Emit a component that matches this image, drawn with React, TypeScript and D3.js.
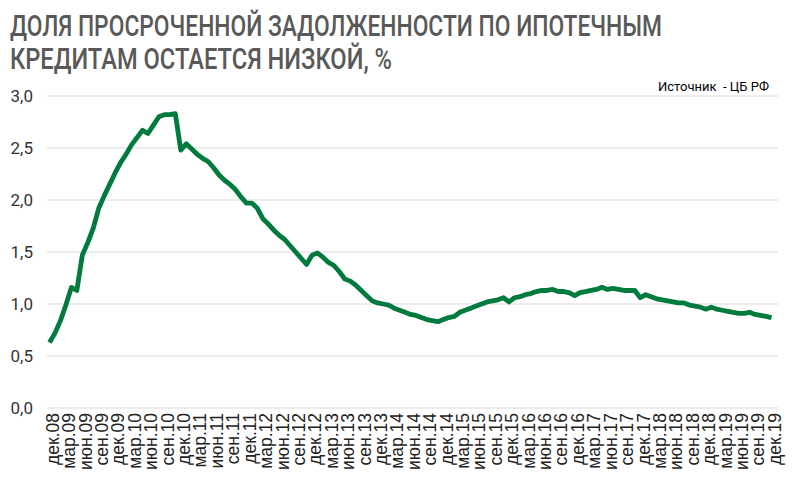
import React from "react";
import * as d3 from "d3";

const titleLines = [
  "ДОЛЯ ПРОСРОЧЕННОЙ ЗАДОЛЖЕННОСТИ ПО ИПОТЕЧНЫМ",
  "КРЕДИТАМ ОСТАЕТСЯ НИЗКОЙ, %",
];
const sourceText = "Источник  - ЦБ РФ";

const startYear = 8;
const endYear = 19;

const values = [
  0.63, 0.72, 0.84, 0.99, 1.16, 1.13, 1.47, 1.59, 1.73, 1.92,
  2.04, 2.15, 2.26, 2.36, 2.44, 2.53, 2.6, 2.67, 2.64, 2.72,
  2.8, 2.82, 2.82, 2.83, 2.48, 2.54, 2.49, 2.44, 2.4, 2.37,
  2.31, 2.24, 2.19, 2.15, 2.1, 2.03, 1.97, 1.97, 1.92, 1.82,
  1.77, 1.71, 1.66, 1.62, 1.56, 1.5, 1.44, 1.38, 1.47, 1.49,
  1.45, 1.4, 1.37, 1.31, 1.24, 1.22, 1.18, 1.13, 1.08, 1.03,
  1.01, 1.0, 0.99, 0.96, 0.94, 0.92, 0.9, 0.89, 0.87, 0.85,
  0.84, 0.83, 0.85, 0.87, 0.88, 0.92, 0.94, 0.96, 0.98, 1.0,
  1.02, 1.03, 1.04, 1.06, 1.02, 1.06, 1.07, 1.09, 1.1, 1.12,
  1.13, 1.13, 1.14, 1.12, 1.12, 1.11, 1.08, 1.11, 1.12, 1.13,
  1.14, 1.16, 1.14, 1.15, 1.14, 1.13, 1.13, 1.13, 1.06, 1.09,
  1.07, 1.05, 1.04, 1.03, 1.02, 1.01, 1.01, 0.99, 0.98, 0.97,
  0.95, 0.97, 0.95, 0.94, 0.93, 0.92, 0.91, 0.91, 0.92, 0.9,
  0.89, 0.88, 0.87,
];

const yTicks = [0, 0.5, 1, 1.5, 2, 2.5, 3];

// quarterly labels: дек.08, мар.09, ... дек.19
const xLabels: string[] = [];
for (let y = startYear; y <= endYear; y++) {
  const yy = String(y).padStart(2, "0");
  if (y === startYear) {
    xLabels.push(`дек.${yy}`);
  } else {
    xLabels.push(`мар.${yy}`, `июн.${yy}`, `сен.${yy}`, `дек.${yy}`);
  }
}

export default function App() {
  const W = 794;
  const H = 482;
  const x = d3.scalePoint<number>().domain(values.map((_, i) => i)).range([49.5, 771.5]);
  const y = d3.scaleLinear().domain([0, 3]).range([408, 96]);
  const line = d3
    .line<number>()
    .x((_, i) => x(i) as number)
    .y((d) => y(d))
    .curve(d3.curveLinear);

  return (
    <svg
      width={W}
      height={H}
      style={{ position: "absolute", left: 0, top: 0, background: "#fff" }}
    >
      <rect width={W} height={H} fill="#fff" />
      {titleLines.map((t, i) => (
        <text
          key={i}
          x={10}
          y={36 + i * 33}
          fontFamily="Roboto, sans-serif"
          fontWeight={500}
          fontSize={29}
          fill="#595959"
          textLength={i === 0 ? 652 : 382}
          lengthAdjust="spacingAndGlyphs"
        >
          {t}
        </text>
      ))}
      <text
        x={769}
        y={91}
        textAnchor="end"
        fontFamily="Roboto, sans-serif"
        fontSize={13}
        fill="#000"
        style={{ whiteSpace: "pre" }}
      >
        {sourceText}
      </text>
      {yTicks.map((t) => (
        <g key={t}>
          <line x1={47} x2={778} y1={y(t)} y2={y(t)} stroke="#d9d9d9" strokeWidth={1} />
          <text
            x={33}
            y={y(t)}
            dy="0.35em"
            textAnchor="end"
            fontFamily="Roboto, sans-serif"
            fontSize={17}
            fill="#333"
          >
            {d3.format(".1f")(t).replace(".", ",")}
          </text>
        </g>
      ))}
      {xLabels.map((l, k) => {
        const xi = (x(k * 3) as number) + 3;
        return (
          <text
            key={l}
            transform={`translate(${xi},413) rotate(-90)`}
            dy="0.36em"
            textAnchor="end"
            fontFamily="'Liberation Sans', Arial, sans-serif"
            fontSize={17.5}
            fill="#222"
          >
            {l}
          </text>
        );
      })}
      <path
        d={line(values) || ""}
        fill="none"
        stroke="#007a3d"
        strokeWidth={4.8}
        strokeLinejoin="round"
        strokeLinecap="butt"
      />
    </svg>
  );
}
